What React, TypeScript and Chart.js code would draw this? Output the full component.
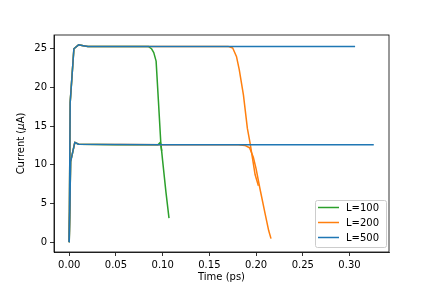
import React, { useEffect, useRef } from "react";
import { Chart, registerables } from "chart.js";

Chart.register(...registerables);

// L=100 (two runs)
const greenHighT = [0, 0.001, 0.005, 0.01, 0.015, 0.02, 0.05, 0.08, 0.0847, 0.088, 0.0905, 0.093, 0.0955, 0.098, 0.1, 0.1035, 0.1068];
const greenHighI = [0, 18, 25, 25.5, 25.4, 25.3, 25.3, 25.3, 25.3, 25.0, 24.5, 23.4, 18.2, 12.9, 10.5, 6.5, 3.1];
const greenLowT = [0, 0.0015, 0.006, 0.01, 0.05, 0.09, 0.095, 0.0975, 0.099];
const greenLowI = [0, 10.4, 12.9, 12.65, 12.6, 12.6, 12.6, 12.9, 11.8];

// L=200 (two runs)
const orangeHighT = [0, 0.001, 0.005, 0.01, 0.015, 0.02, 0.1, 0.17, 0.175, 0.179, 0.182, 0.1865, 0.1907, 0.1936, 0.1965, 0.199, 0.2025];
const orangeHighI = [0, 18, 25, 25.5, 25.4, 25.3, 25.3, 25.3, 25.1, 24, 22.3, 19, 14.7, 12.8, 10.6, 8.7, 7.3];
const orangeLowT = [0, 0.0015, 0.006, 0.01, 0.1, 0.181, 0.188, 0.193, 0.197, 0.2, 0.204, 0.21, 0.2135, 0.216];
const orangeLowI = [0, 10.4, 12.9, 12.65, 12.6, 12.6, 12.5, 12.2, 11, 9.5, 7, 3.5, 1.5, 0.45];

// L=500 (two runs)
const blueHighT = [0, 0.001, 0.005, 0.01, 0.015, 0.02, 0.1, 0.2, 0.306];
const blueHighI = [0, 18, 25, 25.5, 25.4, 25.3, 25.3, 25.3, 25.3];
const blueLowT = [0, 0.0015, 0.006, 0.01, 0.1, 0.2, 0.326];
const blueLowI = [0, 10.4, 12.9, 12.65, 12.6, 12.6, 12.6];

const seriesLabels = ["L=100", "L=200", "L=500"];
const seriesColors = ["#2ca02c", "#ff7f0e", "#1f77b4"];

const xTickStep = 0.05;
const yTickStep = 5;
const xTitle = "Time (ps)";

const FONT = "'DejaVu Sans', sans-serif";

function pts(t: number[], v: number[]) {
  return t.map((x, i) => ({ x, y: v[i] }));
}

export default function App() {
  const ref = useRef<HTMLCanvasElement | null>(null);

  useEffect(() => {
    const canvas = ref.current!;
    const mk = (label: string, color: string, t: number[], v: number[], order: number) => ({
      label,
      data: pts(t, v),
      borderColor: color,
      backgroundColor: color,
      borderWidth: 1.5,
      pointRadius: 0,
      fill: false,
      tension: 0,
      order,
      borderJoinStyle: "round" as const,
      borderCapStyle: "butt" as const,
    });

    const datasets = [
      mk(seriesLabels[0], seriesColors[0], greenHighT, greenHighI, 6),
      mk(seriesLabels[0], seriesColors[0], greenLowT, greenLowI, 5),
      mk(seriesLabels[1], seriesColors[1], orangeHighT, orangeHighI, 4),
      mk(seriesLabels[1], seriesColors[1], orangeLowT, orangeLowI, 3),
      mk(seriesLabels[2], seriesColors[2], blueHighT, blueHighI, 2),
      mk(seriesLabels[2], seriesColors[2], blueLowT, blueLowI, 1),
    ];

    const all = [greenHighI, greenLowI, orangeHighI, orangeLowI, blueHighI, blueLowI].flat();
    const allT = [greenHighT, greenLowT, orangeHighT, orangeLowT, blueHighT, blueLowT].flat();
    const yMin0 = Math.min(...all), yMax0 = Math.max(...all);
    const xMin0 = Math.min(...allT), xMax0 = Math.max(...allT);
    const yr = yMax0 - yMin0, xr = xMax0 - xMin0;

    const decor = {
      id: "decor",
      afterDraw(chart: any) {
        const ctx = chart.ctx;
        const a = chart.chartArea;
        ctx.save();
        ctx.strokeStyle = "#000";
        ctx.lineWidth = 0.8;
        ctx.strokeRect(a.left, a.top, a.right - a.left, a.bottom - a.top);

        ctx.fillStyle = "#000";
        ctx.font = `10px ${FONT}`;
        ctx.textAlign = "center";
        ctx.textBaseline = "alphabetic";
        ctx.fillText(xTitle, (a.left + a.right) / 2, 280);

        const parts = [
          { t: "Current (", f: `10px ${FONT}` },
          { t: "\u03bc", f: `italic 10px ${FONT}` },
          { t: "A)", f: `10px ${FONT}` },
        ];
        let total = 0;
        const widths = parts.map((p) => {
          ctx.font = p.f;
          const w = ctx.measureText(p.t).width;
          total += w;
          return w;
        });
        ctx.translate(24, (a.top + a.bottom) / 2);
        ctx.rotate(-Math.PI / 2);
        ctx.textAlign = "left";
        let xx = -total / 2;
        parts.forEach((p, i) => {
          ctx.font = p.f;
          ctx.fillText(p.t, xx, 0);
          xx += widths[i];
        });
        ctx.restore();

        ctx.save();
        const bx = 315.5, by = 200.5, bw = 71, bh = 47;
        ctx.fillStyle = "rgba(255,255,255,0.8)";
        ctx.strokeStyle = "#cccccc";
        ctx.lineWidth = 1;
        ctx.beginPath();
        const r = 2;
        ctx.moveTo(bx + r, by);
        ctx.lineTo(bx + bw - r, by);
        ctx.arcTo(bx + bw, by, bx + bw, by + r, r);
        ctx.lineTo(bx + bw, by + bh - r);
        ctx.arcTo(bx + bw, by + bh, bx + bw - r, by + bh, r);
        ctx.lineTo(bx + r, by + bh);
        ctx.arcTo(bx, by + bh, bx, by + bh - r, r);
        ctx.lineTo(bx, by + r);
        ctx.arcTo(bx, by, bx + r, by, r);
        ctx.closePath();
        ctx.fill();
        ctx.stroke();
        ctx.font = `10px ${FONT}`;
        ctx.textAlign = "left";
        ctx.textBaseline = "middle";
        seriesLabels.forEach((lab, i) => {
          const yy = 207.5 + i * 15;
          ctx.strokeStyle = seriesColors[i];
          ctx.lineWidth = 1.5;
          ctx.beginPath();
          ctx.moveTo(318, yy);
          ctx.lineTo(339, yy);
          ctx.stroke();
          ctx.fillStyle = "#000";
          ctx.fillText(lab, 346, yy + 0.5);
        });
        ctx.restore();
      },
    };

    const chart = new Chart(canvas, {
      type: "line",
      data: { datasets: datasets as any },
      options: {
        responsive: false,
        animation: false,
        layout: { padding: { top: 35, right: 43, left: 0, bottom: 0 } },
        plugins: { legend: { display: false }, tooltip: { enabled: false } },
        scales: {
          x: {
            type: "linear",
            min: xMin0 - 0.05 * xr,
            max: xMax0 + 0.05 * xr,
            grid: { drawOnChartArea: false, drawTicks: true, tickLength: 4, color: "#000", lineWidth: 0.8 },
            border: { display: true, color: "#000", width: 0.8 },
            ticks: {
              stepSize: xTickStep,
              includeBounds: false,
              padding: 3,
              color: "#000",
              font: { family: FONT, size: 10 },
              maxRotation: 0,
              autoSkip: false,
              callback: (v: any) => Number(v).toFixed(2),
            },
            afterFit: (s: any) => { s.height = 36; },
          },
          y: {
            type: "linear",
            min: yMin0 - 0.05 * yr,
            max: yMax0 + 0.05 * yr,
            grid: { drawOnChartArea: false, drawTicks: true, tickLength: 4, color: "#000", lineWidth: 0.8 },
            border: { display: true, color: "#000", width: 0.8 },
            ticks: {
              stepSize: yTickStep,
              includeBounds: false,
              padding: 3,
              color: "#000",
              font: { family: FONT, size: 10 },
              autoSkip: false,
              callback: (v: any) => String(Math.round(Number(v))),
            },
            afterFit: (s: any) => { s.width = 54; },
          },
        },
      },
      plugins: [decor],
    });
    return () => chart.destroy();
  }, []);

  return (
    <div style={{ position: "fixed", left: 0, top: 0, width: 432, height: 288, background: "#fff" }}>
      <canvas ref={ref} width={432} height={288} style={{ width: 432, height: 288, display: "block" }} />
    </div>
  );
}
